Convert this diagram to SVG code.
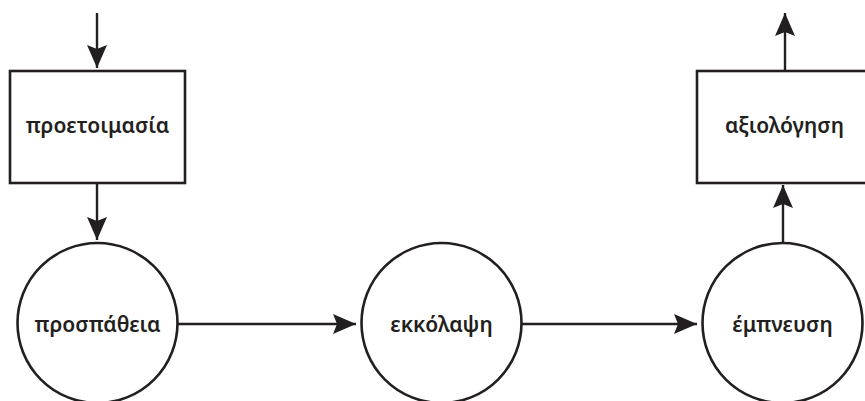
<svg xmlns="http://www.w3.org/2000/svg" width="865" height="401" viewBox="0 0 865 401">
<style>
.n{fill:#fff;stroke:#231f20;stroke-width:2.6}
.c{fill:none;stroke:#231f20;stroke-width:2.4}
.t{font-family:"Noto Sans","DejaVu Sans",sans-serif;font-size:21px;font-weight:600;fill:#231f20;text-anchor:middle}
</style>
<defs>
<marker id="ah" markerUnits="userSpaceOnUse" markerWidth="24" markerHeight="20" viewBox="0 0 24 20" refX="23" refY="10" orient="auto">
<path d="M0,0 L23,10 L0,20 L4,10 Z" fill="#231f20"/>
</marker>
</defs>
<g id="connectors">
<line class="c" x1="97" y1="13" x2="97" y2="68" marker-end="url(#ah)"/>
<line class="c" x1="97" y1="183" x2="97" y2="240" marker-end="url(#ah)"/>
<line class="c" x1="178" y1="324" x2="356" y2="324" marker-end="url(#ah)"/>
<line class="c" x1="522" y1="324" x2="697" y2="324" marker-end="url(#ah)"/>
<line class="c" x1="783" y1="243" x2="783" y2="185" marker-end="url(#ah)"/>
<line class="c" x1="785" y1="70" x2="785" y2="13" marker-end="url(#ah)"/>
</g>
<g id="node-proetoimasia">
<rect class="n" x="10" y="71" width="175" height="112"/>
<text class="t" x="97.5" y="133">προετοιμασία</text>
</g>
<g id="node-prospatheia">
<circle class="n" cx="97.5" cy="323" r="80"/>
<text class="t" x="97.5" y="332">προσπάθεια</text>
</g>
<g id="node-ekkolapsi">
<circle class="n" cx="441.5" cy="323" r="80"/>
<text class="t" x="441.5" y="332">εκκόλαψη</text>
</g>
<g id="node-empneusi">
<circle class="n" cx="782.5" cy="323" r="80"/>
<text class="t" x="782.5" y="332">έμπνευση</text>
</g>
<g id="node-axiologisi">
<rect class="n" x="697" y="71" width="175" height="112"/>
<text class="t" x="784.5" y="133">αξιολόγηση</text>
</g>
</svg>
